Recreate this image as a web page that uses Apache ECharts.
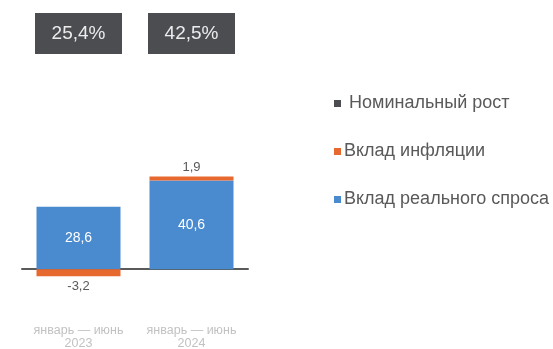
<!DOCTYPE html>
<html>
<head>
<meta charset="utf-8">
<script src="https://cdn.jsdelivr.net/npm/echarts@6/dist/echarts.min.js"></script>
<style>
  html, body { margin: 0; padding: 0; background: #ffffff; }
  #chart { width: 553px; height: 349px; }
</style>
</head>
<body>
<div id="chart"></div>
<script>
// Periods on the category axis
const categories = ['январь — июнь\n2023', 'январь — июнь\n2024'];
// Contribution of real demand, p.p.
const realDemand = [28.6, 40.6];
// Contribution of inflation, p.p.
const inflation = [-3.2, 1.9];
// Nominal growth, %
const nominal = [25.4, 42.5];

const fmt = v => v.toFixed(1).replace('.', ',');

const COLOR_BLUE = '#4a8bd0';
const COLOR_ORANGE = '#e8692f';
const COLOR_DARK = '#4b4d51';

const chart = echarts.init(document.getElementById('chart'), null, { renderer: 'canvas' });

chart.setOption({
  animation: false,
  backgroundColor: '#ffffff',
  textStyle: { fontFamily: 'Liberation Sans, Arial, sans-serif' },
  legend: {
    orient: 'vertical',
    left: 329,
    top: 88,
    itemGap: 27,
    itemWidth: 7,
    itemHeight: 7,
    icon: 'rect',
    data: ['Номинальный рост', 'Вклад инфляции', 'Вклад реального спроса'],
    formatter: name => (name === 'Номинальный рост' ? ' ' + name : name),
    textStyle: { fontSize: 18, color: '#595959', lineHeight: 21, padding: [0, 0, 0, -2] }
  },
  grid: [
    { left: 22, right: 305, top: 160, bottom: 58, outerBoundsMode: 'none', containLabel: false },
    { left: 22, right: 305, top: 13, height: 41, outerBoundsMode: 'none', containLabel: false }
  ],
  xAxis: [
    {
      type: 'category',
      gridIndex: 0,
      data: categories,
      axisLine: { onZero: true, lineStyle: { color: '#5a5a5a', width: 2 } },
      axisTick: { show: false },
      axisLabel: {
        interval: 0,
        hideOverlap: false,
        margin: 33,
        fontSize: 12.5,
        color: '#c2c2c2',
        lineHeight: 13
      }
    },
    {
      type: 'category',
      gridIndex: 1,
      data: categories,
      show: false
    }
  ],
  yAxis: [
    { type: 'value', gridIndex: 0, min: -10, max: 50, show: false, splitLine: { show: false } },
    { type: 'value', gridIndex: 1, min: -1, max: 1, show: false, splitLine: { show: false } }
  ],
  series: [
    {
      name: 'Вклад реального спроса',
      type: 'bar',
      stack: 'total',
      barWidth: 84,
      itemStyle: { color: COLOR_BLUE },
      data: realDemand,
      label: {
        show: true,
        position: 'inside',
        color: '#ffffff',
        fontSize: 14,
        formatter: p => fmt(p.value)
      }
    },
    {
      name: 'Вклад инфляции',
      type: 'bar',
      stack: 'total',
      barWidth: 84,
      itemStyle: { color: COLOR_ORANGE },
      data: inflation.map(v => ({
        value: v,
        label: { position: v < 0 ? 'bottom' : 'top', distance: v < 0 ? 4 : 2 }
      })),
      label: {
        show: true,
        color: '#595959',
        fontSize: 13,
        formatter: p => fmt(p.value)
      }
    },
    {
      name: 'Номинальный рост',
      type: 'scatter',
      xAxisIndex: 1,
      yAxisIndex: 1,
      symbol: 'rect',
      symbolSize: [87, 41],
      itemStyle: { color: COLOR_DARK, opacity: 1 },
      data: nominal.map((v, i) => ({ value: [i, 0], nominal: v })),
      label: {
        show: true,
        position: 'inside',
        color: '#ececec',
        fontSize: 19,
        formatter: p => fmt(nominal[p.dataIndex]) + '%'
      }
    }
  ]
});
</script>
</body>
</html>
